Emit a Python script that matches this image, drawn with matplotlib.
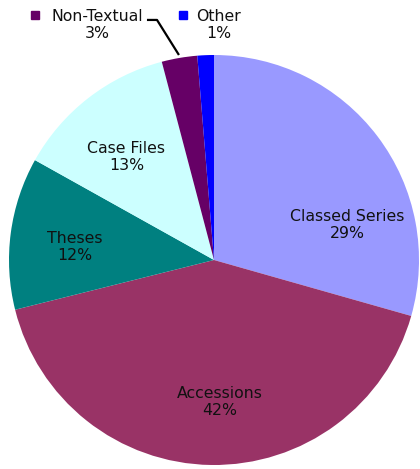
import matplotlib
matplotlib.use("Agg")
import matplotlib.pyplot as plt

categories = ["Classed Series", "Accessions", "Theses", "Case Files", "Non-Textual", "Other"]
values = [29.4, 41.7, 12.0, 12.8, 2.8, 1.3]
colors = ["#9999FF", "#993366", "#008080", "#CCFFFF", "#660066", "#0000FF"]

fig = plt.figure(figsize=(4.2, 4.69), dpi=100)
ax = fig.add_axes([0, 0, 1, 1])
ax.axis("off")

wedges, _ = ax.pie(values, colors=colors, startangle=90, counterclock=False,
                   radius=1.0, wedgeprops=dict(linewidth=0))

total = sum(values)
pcts = [f"{round(v / total * 100):.0f}%" for v in values]

# label positions (in pie-radius units)
inside_pos = {
    "Classed Series": (0.649, 0.171),
    "Accessions": (0.029, -0.693),
    "Theses": (-0.678, 0.063),
    "Case Files": (-0.427, 0.502),
}
fs = 11.3
ls = 1.22
for cat, pct in zip(categories, pcts):
    if cat in inside_pos:
        x, y = inside_pos[cat]
        ax.text(x, y, f"{cat}\n{pct}", ha="center", va="center", fontsize=fs,
                linespacing=ls, color="#111111")

# outside labels with small square keys
outside = {
    "Non-Textual": (-0.568, 1.146, -0.873),
    "Other": (0.022, 1.146, -0.153),
}
for cat, pct, col in zip(categories, pcts, colors):
    if cat in outside:
        x, y, mx = outside[cat]
        ax.text(x, y, f"{cat}\n{pct}", ha="center", va="center", fontsize=fs,
                linespacing=ls, color="#111111")
        ax.plot([mx], [1.197], marker="s", markersize=6, color=col,
                linestyle="none")

# leader line for Non-Textual
ax.plot([-0.327, -0.278, -0.171], [1.171, 1.171, 1.0], color="black", lw=1.6,
        solid_capstyle="butt")

ax.set_xlim(-214 / 205, (420 - 214) / 205)
ax.set_ylim(-(469 - 260) / 205, 260 / 205)
ax.set_aspect("auto")

fig.savefig("out.png", dpi=100)
